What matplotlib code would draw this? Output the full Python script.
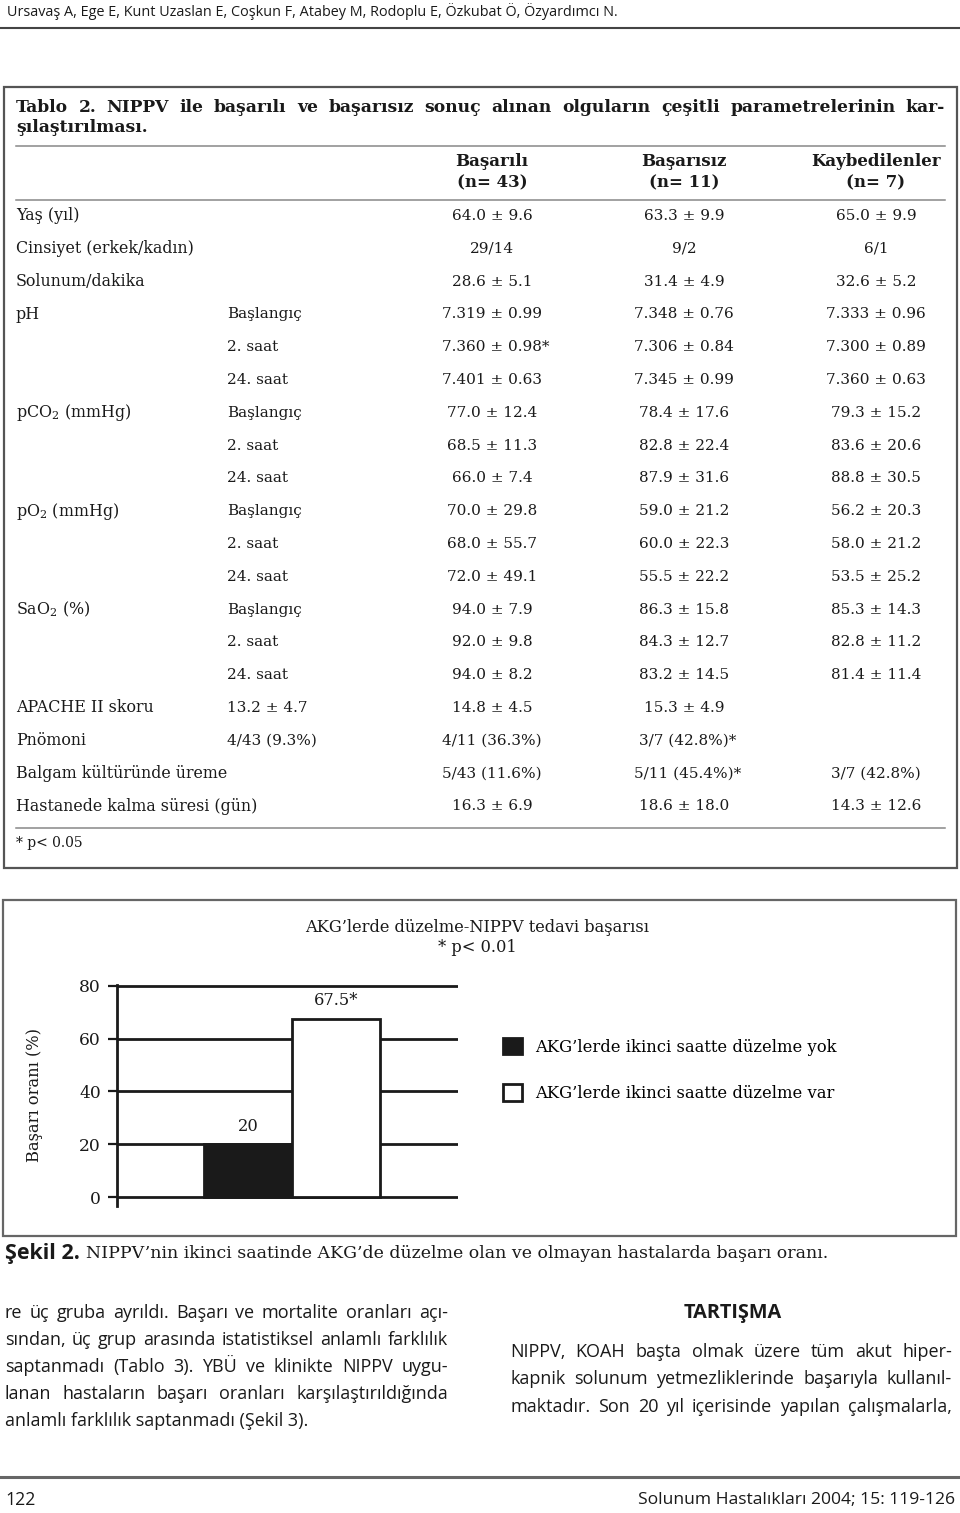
import matplotlib
matplotlib.use("Agg")
import matplotlib.pyplot as plt
from matplotlib.patches import Rectangle

plt.rcParams["font.family"] = "DejaVu Serif"
plt.rcParams["mathtext.fontset"] = "dejavuserif"

W, H = 960, 1513
SANS = "Open Sans"
INK = "#1a1a1a"

# ---- Tablo 2 data ----
groups = ["Başarılı", "Başarısız", "Kaybedilenler"]
group_n = ["(n= 43)", "(n= 11)", "(n= 7)"]
row_labels = ["Yaş (yıl)", "Cinsiyet (erkek/kadın)", "Solunum/dakika",
              "pH", "", "",
              "pCO$_2$ (mmHg)", "", "",
              "pO$_2$ (mmHg)", "", "",
              "SaO$_2$ (%)", "", "",
              "APACHE II skoru", "Pnömoni", "Balgam kültüründe üreme",
              "Hastanede kalma süresi (gün)"]
sub_labels = ["", "", "",
              "Başlangıç", "2. saat", "24. saat",
              "Başlangıç", "2. saat", "24. saat",
              "Başlangıç", "2. saat", "24. saat",
              "Başlangıç", "2. saat", "24. saat",
              "13.2 ± 4.7", "4/43 (9.3%)", "", ""]
basarili = ["64.0 ± 9.6", "29/14", "28.6 ± 5.1",
            "7.319 ± 0.99", "7.360 ± 0.98*", "7.401 ± 0.63",
            "77.0 ± 12.4", "68.5 ± 11.3", "66.0 ± 7.4",
            "70.0 ± 29.8", "68.0 ± 55.7", "72.0 ± 49.1",
            "94.0 ± 7.9", "92.0 ± 9.8", "94.0 ± 8.2",
            "14.8 ± 4.5", "4/11 (36.3%)", "5/43 (11.6%)", "16.3 ± 6.9"]
basarisiz = ["63.3 ± 9.9", "9/2", "31.4 ± 4.9",
             "7.348 ± 0.76", "7.306 ± 0.84", "7.345 ± 0.99",
             "78.4 ± 17.6", "82.8 ± 22.4", "87.9 ± 31.6",
             "59.0 ± 21.2", "60.0 ± 22.3", "55.5 ± 22.2",
             "86.3 ± 15.8", "84.3 ± 12.7", "83.2 ± 14.5",
             "15.3 ± 4.9", "3/7 (42.8%)*", "5/11 (45.4%)*", "18.6 ± 18.0"]
kaybedilen = ["65.0 ± 9.9", "6/1", "32.6 ± 5.2",
              "7.333 ± 0.96", "7.300 ± 0.89", "7.360 ± 0.63",
              "79.3 ± 15.2", "83.6 ± 20.6", "88.8 ± 30.5",
              "56.2 ± 20.3", "58.0 ± 21.2", "53.5 ± 25.2",
              "85.3 ± 14.3", "82.8 ± 11.2", "81.4 ± 11.4",
              "", "", "3/7 (42.8%)", "14.3 ± 12.6"]

# ---- Şekil 2 data ----
bar_labels = ["AKG’lerde ikinci saatte düzelme yok",
              "AKG’lerde ikinci saatte düzelme var"]
success_rate = [20, 67.5]
bar_notes = ["20", "67.5*"]
bar_colors = [INK, "white"]
yticks = [0, 20, 40, 60, 80]

# ---- running text ----
left_col = ["re üç gruba ayrıldı. Başarı ve mortalite oranları açı-",
            "sından, üç grup arasında istatistiksel anlamlı farklılık",
            "saptanmadı (Tablo 3). YBÜ ve klinikte NIPPV uygu-",
            "lanan hastaların başarı oranları karşılaştırıldığında",
            "anlamlı farklılık saptanmadı (Şekil 3)."]
right_col = ["NIPPV, KOAH başta olmak üzere tüm akut hiper-",
             "kapnik solunum yetmezliklerinde başarıyla kullanıl-",
             "maktadır. Son 20 yıl içerisinde yapılan çalışmalarla,"]

fig = plt.figure(figsize=(W / 100, H / 100), dpi=100)
page = fig.add_axes([0, 0, 1, 1])
page.set_xlim(0, W)
page.set_ylim(H, 0)
page.axis("off")
renderer = fig.canvas.get_renderer()


def width(t):
    return t.get_window_extent(renderer).width


def justify(line, x0, x1, y, **kw):
    words = line.split()
    arts = [page.text(0, y, w, va="center", ha="left", **kw) for w in words]
    ws = [width(a) for a in arts]
    gap = (x1 - x0 - sum(ws)) / (len(words) - 1)
    x = x0
    for a, w in zip(arts, ws):
        a.set_x(x)
        x += w + gap


# page header
page.text(7, 11, "Ursavaş A, Ege E, Kunt Uzaslan E, Coşkun F, Atabey M, Rodoplu E, "
          "Özkubat Ö, Özyardımcı N.", family=SANS, fontsize=10.4, va="center", color=INK)
page.plot([0, W], [28, 28], color="#444", lw=1.5)

# ---- table ----
page.add_patch(Rectangle((4, 87), 953, 781, fill=False, ec="#555", lw=1.6))
justify("Tablo 2. NIPPV ile başarılı ve başarısız sonuç alınan olguların "
        "çeşitli parametrelerinin kar-", 16, 945, 107,
        fontsize=12.3, weight="bold", color=INK)
page.text(16, 128, "şılaştırılması.", fontsize=12.3, weight="bold", va="center", color=INK)
for yl in (146, 200, 828):
    page.plot([16, 945], [yl, yl], color="#888", lw=1.1)

col_x = [492, 684, 876]
for cx, g, n in zip(col_x, groups, group_n):
    page.text(cx, 161, g, ha="center", va="center", weight="bold", fontsize=12, color=INK)
    page.text(cx, 183, n, ha="center", va="center", weight="bold", fontsize=12, color=INK)

y0, dy = 216, 32.8
for i, (lab, sub) in enumerate(zip(row_labels, sub_labels)):
    y = y0 + i * dy
    page.text(16, y, lab, va="center", fontsize=11.4, color=INK)
    page.text(227, y, sub, va="center", fontsize=11, color=INK)
    for cx, col in zip(col_x, (basarili, basarisiz, kaybedilen)):
        s = col[i]
        if not s:
            continue
        t = page.text(cx, y, s, va="center", ha="left", fontsize=11, color=INK)
        core = page.text(0, 0, s.rstrip("*"), fontsize=11)
        t.set_x(cx - width(core) / 2)
        core.remove()
page.text(16, 843, "* p< 0.05", va="center", fontsize=10, color=INK)

# ---- figure ----
page.add_patch(Rectangle((3, 900), 953, 336, fill=False, ec="#666", lw=1.6))
page.text(477, 927, "AKG’lerde düzelme-NIPPV tedavi başarısı", ha="center", va="center",
          fontsize=11.7, color=INK)
page.text(477, 948, "* p< 0.01", ha="center", va="center", fontsize=11.7, color=INK)

ax = fig.add_axes([117 / W, 1 - 1206 / H, (458 - 117) / W, (1206 - 984.7) / H])
bars = ax.bar([0, 1], success_rate, width=1, color=bar_colors, edgecolor=INK,
              linewidth=2, zorder=3)
ax.set_xlim(-1.494, 2.381)
ax.set_ylim(-3.4, 80.4)
ax.set_yticks(yticks)
ax.set_xticks([])
ax.yaxis.grid(True, color=INK, lw=2)
ax.set_axisbelow(True)
for side in ("top", "right", "bottom"):
    ax.spines[side].set_visible(False)
ax.spines["left"].set_linewidth(2)
ax.spines["left"].set_color(INK)
ax.tick_params(axis="y", length=6.5, width=1.6, pad=5, labelsize=12.3, colors=INK)
ax.set_ylabel("Başarı oranı (%)", fontsize=11.7, color=INK)
ax.yaxis.set_label_coords(-0.217, 0.5)
ax.patch.set_alpha(0)
for i, (v, note) in enumerate(zip(success_rate, bar_notes)):
    ax.annotate(note, (i, v), xytext=(0, 13), textcoords="offset points",
                ha="center", va="center", fontsize=11.7, color=INK)
ax.legend(bars, bar_labels, loc="upper left", bbox_to_anchor=(503 / W, 1 - 1038 / H),
          bbox_transform=fig.transFigure, frameon=False, fontsize=11.8,
          handlelength=1.15, handleheight=1.15, handletextpad=0.8,
          labelspacing=1.75, borderpad=0, borderaxespad=0)

# caption
cap = page.text(5, 1253, "Şekil 2.", family=SANS, weight="bold", fontsize=15.5,
                va="center", color=INK)
page.text(5 + width(cap) + 6, 1253,
          "NIPPV’nin ikinci saatinde AKG’de düzelme olan ve olmayan hastalarda başarı oranı.",
          fontsize=12.5, va="center", color=INK)

# running text
for k, line in enumerate(left_col):
    y = 1313 + k * 27
    if k < len(left_col) - 1:
        justify(line, 5, 448, y, family=SANS, fontsize=13, color=INK)
    else:
        page.text(5, y, line, family=SANS, fontsize=13, va="center", color=INK)
page.text(733, 1313, "TARTIŞMA", family=SANS, weight="bold", fontsize=14.3,
          ha="center", va="center", color=INK)
for k, line in enumerate(right_col):
    justify(line, 510, 952, 1352 + k * 27.5, family=SANS, fontsize=13, color=INK)

# footer
page.plot([0, W], [1477, 1477], color="#666", lw=2.2)
page.text(5, 1500, "122", family=SANS, fontsize=12.8, va="center", color=INK)
page.text(955, 1500, "Solunum Hastalıkları 2004; 15: 119-126", family=SANS, fontsize=12.6,
          ha="right", va="center", color=INK)

fig.savefig("out.png", dpi=100)
